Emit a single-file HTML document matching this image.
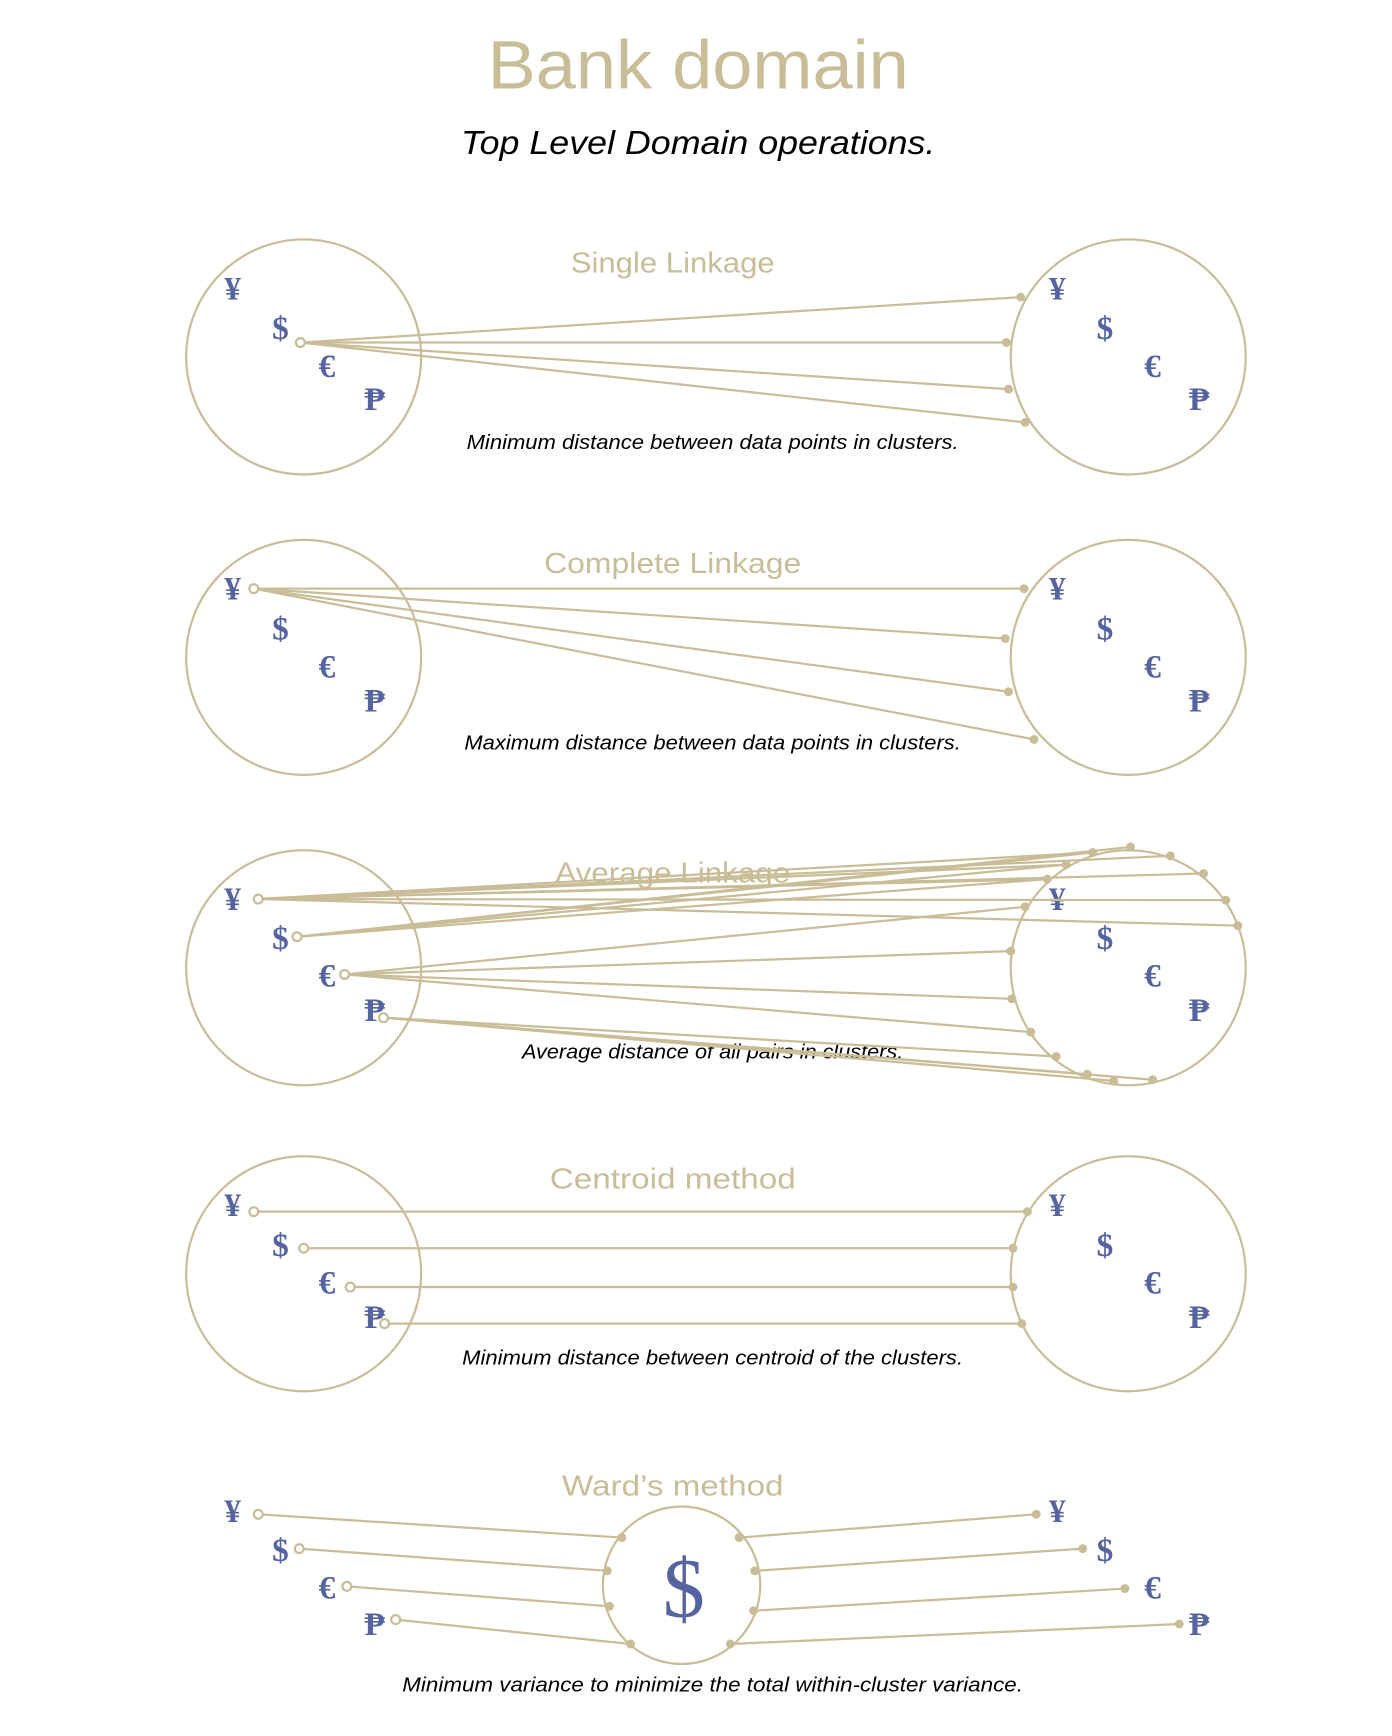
<!DOCTYPE html>
<html><head><meta charset="utf-8"><style>
html,body{margin:0;padding:0;background:#fff;}
svg{display:block;}
.t{font-family:"Liberation Sans",sans-serif;fill:#c8bd97;text-anchor:middle;}
.c{font-family:"Liberation Sans",sans-serif;font-style:italic;fill:#000;text-anchor:middle;font-size:18px;}
.s{font-family:"Liberation Serif",serif;fill:#5563a0;text-anchor:middle;font-size:30px;font-weight:bold;}
.l{stroke:#c8bd97;stroke-width:2;fill:none;}
.f{fill:#c8bd97;}
.o{fill:#fff;stroke:#c8bd97;stroke-width:2;}
</style></head><body>
<svg width="1392" height="1736" viewBox="0 0 1256 1566" preserveAspectRatio="none" xmlns="http://www.w3.org/2000/svg">
<text class="t" x="630" y="80" font-size="62" textLength="380" lengthAdjust="spacingAndGlyphs">Bank domain</text>
<text x="630" y="139" font-family="Liberation Sans,sans-serif" font-style="italic" font-size="30" text-anchor="middle" textLength="428" lengthAdjust="spacingAndGlyphs">Top Level Domain operations.</text>

<!-- Section 1 -->
<circle class="l" cx="274" cy="322" r="106" stroke-width="1.5"/>
<circle class="l" cx="1018" cy="322" r="106" stroke-width="1.5"/>
<text class="t" x="607" y="246" font-size="26" textLength="184" lengthAdjust="spacingAndGlyphs">Single Linkage</text>
<g class="s"><text x="210" y="270">¥</text><text x="253" y="306">$</text><text x="295" y="340">€</text><text x="338" y="370">₱</text>
<text x="954" y="270">¥</text><text x="997" y="306">$</text><text x="1040" y="340">€</text><text x="1082" y="370">₱</text></g>
<g class="l"><line x1="271" y1="309" x2="921" y2="268"/><line x1="271" y1="309" x2="908" y2="309"/><line x1="271" y1="309" x2="910" y2="351"/><line x1="271" y1="309" x2="925" y2="381"/></g>
<g class="f"><circle cx="921" cy="268" r="4"/><circle cx="908" cy="309" r="4"/><circle cx="910" cy="351" r="4"/><circle cx="925" cy="381" r="4"/></g>
<circle class="o" cx="271" cy="309" r="4"/>
<text class="c" x="643" y="405" textLength="444" lengthAdjust="spacingAndGlyphs">Minimum distance between data points in clusters.</text>

<!-- Section 2 -->
<circle class="l" cx="274" cy="593" r="106" stroke-width="1.5"/>
<circle class="l" cx="1018" cy="593" r="106" stroke-width="1.5"/>
<text class="t" x="607" y="517" font-size="26" textLength="232" lengthAdjust="spacingAndGlyphs">Complete Linkage</text>
<g class="s"><text x="210" y="541">¥</text><text x="253" y="577">$</text><text x="295" y="611">€</text><text x="338" y="642">₱</text>
<text x="954" y="541">¥</text><text x="997" y="577">$</text><text x="1040" y="611">€</text><text x="1082" y="642">₱</text></g>
<g class="l"><line x1="229" y1="531" x2="924" y2="531"/><line x1="229" y1="531" x2="907" y2="576"/><line x1="229" y1="531" x2="910" y2="624"/><line x1="229" y1="531" x2="933" y2="667"/></g>
<g class="f"><circle cx="924" cy="531" r="4"/><circle cx="907" cy="576" r="4"/><circle cx="910" cy="624" r="4"/><circle cx="933" cy="667" r="4"/></g>
<circle class="o" cx="229" cy="531" r="4"/>
<text class="c" x="643" y="676" textLength="448" lengthAdjust="spacingAndGlyphs">Maximum distance between data points in clusters.</text>

<!-- Section 3 -->
<circle class="l" cx="274" cy="873" r="106" stroke-width="1.5"/>
<circle class="l" cx="1018" cy="873" r="106" stroke-width="1.5"/>
<text class="t" x="607" y="796" font-size="26" textLength="212" lengthAdjust="spacingAndGlyphs">Average Linkage</text>
<g class="s"><text x="210" y="821">¥</text><text x="253" y="856">$</text><text x="295" y="890">€</text><text x="338" y="921">₱</text>
<text x="954" y="821">¥</text><text x="997" y="856">$</text><text x="1040" y="890">€</text><text x="1082" y="921">₱</text></g>
<text class="c" x="643" y="955" textLength="344" lengthAdjust="spacingAndGlyphs">Average distance of all pairs in clusters.</text>
<g class="l">
<line x1="233" y1="811" x2="986" y2="769"/><line x1="233" y1="811" x2="1056" y2="772"/><line x1="233" y1="811" x2="962" y2="780"/><line x1="233" y1="811" x2="1086" y2="788"/><line x1="233" y1="811" x2="945" y2="793"/><line x1="233" y1="811" x2="1106" y2="812"/><line x1="233" y1="811" x2="1117" y2="835"/>
<line x1="268" y1="845" x2="1020" y2="764"/><line x1="268" y1="845" x2="986" y2="769"/><line x1="268" y1="845" x2="962" y2="780"/><line x1="268" y1="845" x2="945" y2="793"/>
<line x1="311" y1="879" x2="925" y2="818"/><line x1="311" y1="879" x2="912" y2="858"/><line x1="311" y1="879" x2="913" y2="901"/><line x1="311" y1="879" x2="930" y2="931"/>
<line x1="346" y1="918" x2="953" y2="953"/><line x1="346" y1="918" x2="981" y2="969"/><line x1="346" y1="918" x2="1005" y2="975"/><line x1="346" y1="918" x2="1040" y2="974"/>
</g>
<g class="f"><circle cx="1020" cy="764" r="4"/><circle cx="986" cy="769" r="4"/><circle cx="1056" cy="772" r="4"/><circle cx="962" cy="780" r="4"/><circle cx="1086" cy="788" r="4"/><circle cx="945" cy="793" r="4"/><circle cx="925" cy="818" r="4"/><circle cx="1106" cy="812" r="4"/><circle cx="1117" cy="835" r="4"/><circle cx="912" cy="858" r="4"/><circle cx="913" cy="901" r="4"/><circle cx="930" cy="931" r="4"/><circle cx="953" cy="953" r="4"/><circle cx="981" cy="969" r="4"/><circle cx="1005" cy="975" r="4"/><circle cx="1040" cy="974" r="4"/></g>
<circle class="o" cx="233" cy="811" r="4"/><circle class="o" cx="268" cy="845" r="4"/><circle class="o" cx="311" cy="879" r="4"/><circle class="o" cx="346" cy="918" r="4"/>

<!-- Section 4 -->
<circle class="l" cx="274" cy="1149" r="106" stroke-width="1.5"/>
<circle class="l" cx="1018" cy="1149" r="106" stroke-width="1.5"/>
<text class="t" x="607" y="1072" font-size="26" textLength="222" lengthAdjust="spacingAndGlyphs">Centroid method</text>
<g class="s"><text x="210" y="1097">¥</text><text x="253" y="1133">$</text><text x="295" y="1167">€</text><text x="338" y="1198">₱</text>
<text x="954" y="1097">¥</text><text x="997" y="1133">$</text><text x="1040" y="1167">€</text><text x="1082" y="1198">₱</text></g>
<g class="l"><line x1="229" y1="1093" x2="927" y2="1093"/><line x1="274" y1="1126" x2="914" y2="1126"/><line x1="316" y1="1161" x2="914" y2="1161"/><line x1="347" y1="1194" x2="922" y2="1194"/></g>
<g class="f"><circle cx="927" cy="1093" r="4"/><circle cx="914" cy="1126" r="4"/><circle cx="914" cy="1161" r="4"/><circle cx="922" cy="1194" r="4"/></g>
<circle class="o" cx="229" cy="1093" r="4"/><circle class="o" cx="274" cy="1126" r="4"/><circle class="o" cx="316" cy="1161" r="4"/><circle class="o" cx="347" cy="1194" r="4"/>
<text class="c" x="643" y="1231" textLength="452" lengthAdjust="spacingAndGlyphs">Minimum distance between centroid of the clusters.</text>

<!-- Section 5 -->
<text class="t" x="607" y="1349" font-size="26" textLength="200" lengthAdjust="spacingAndGlyphs">Ward’s method</text>
<circle class="l" cx="615" cy="1430" r="71" stroke-width="1.5"/>
<text x="617" y="1458" style="font-family:'Liberation Serif',serif;fill:#5563a0;text-anchor:middle;font-size:76px;">$</text>
<g class="s"><text x="210" y="1373">¥</text><text x="253" y="1408">$</text><text x="295" y="1442">€</text><text x="338" y="1475">₱</text>
<text x="954" y="1373">¥</text><text x="997" y="1408">$</text><text x="1040" y="1442">€</text><text x="1082" y="1475">₱</text></g>
<g class="l"><line x1="233" y1="1366" x2="561" y2="1387"/><line x1="270" y1="1397" x2="548" y2="1417"/><line x1="313" y1="1431" x2="550" y2="1449"/><line x1="357" y1="1461" x2="569" y2="1483"/>
<line x1="667" y1="1387" x2="935" y2="1366"/><line x1="681" y1="1417" x2="977" y2="1397"/><line x1="680" y1="1453" x2="1015" y2="1433"/><line x1="659" y1="1483" x2="1064" y2="1465"/></g>
<g class="f"><circle cx="561" cy="1387" r="4"/><circle cx="548" cy="1417" r="4"/><circle cx="550" cy="1449" r="4"/><circle cx="569" cy="1483" r="4"/><circle cx="667" cy="1387" r="4"/><circle cx="681" cy="1417" r="4"/><circle cx="680" cy="1453" r="4"/><circle cx="659" cy="1483" r="4"/><circle cx="935" cy="1366" r="4"/><circle cx="977" cy="1397" r="4"/><circle cx="1015" cy="1433" r="4"/><circle cx="1064" cy="1465" r="4"/></g>
<circle class="o" cx="233" cy="1366" r="4"/><circle class="o" cx="270" cy="1397" r="4"/><circle class="o" cx="313" cy="1431" r="4"/><circle class="o" cx="357" cy="1461" r="4"/>
<text class="c" x="643" y="1526" textLength="560" lengthAdjust="spacingAndGlyphs">Minimum variance to minimize the total within-cluster variance.</text>
</svg>
</body></html>
